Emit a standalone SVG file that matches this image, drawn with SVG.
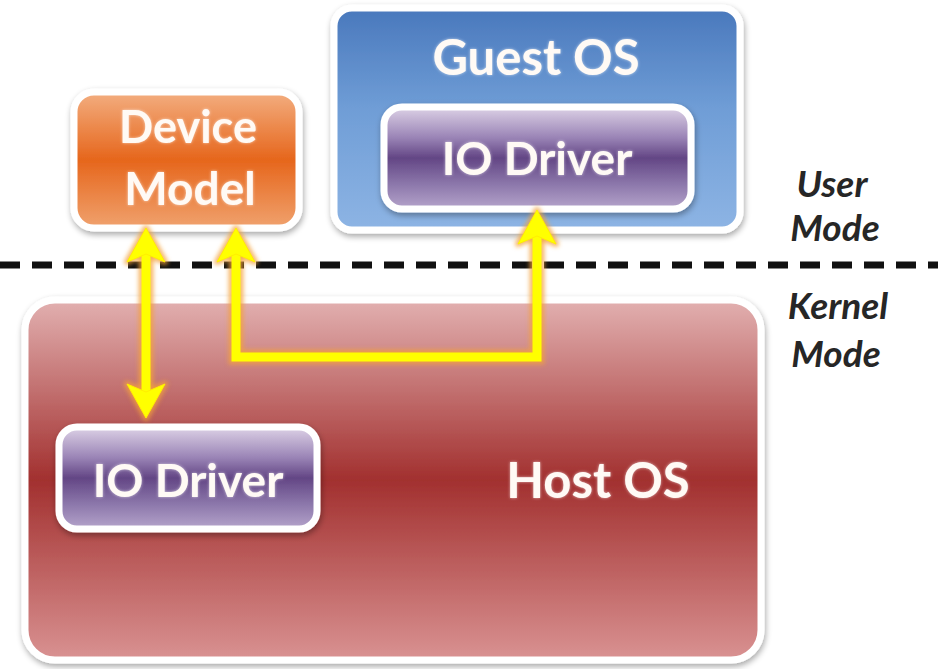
<svg xmlns="http://www.w3.org/2000/svg" width="938" height="669" viewBox="0 0 938 669">
  <defs>
    <linearGradient id="gOrange" x1="0" y1="0" x2="0" y2="1">
      <stop offset="0" stop-color="#f3ae80"/>
      <stop offset="0.5" stop-color="#e6661c"/>
      <stop offset="1" stop-color="#f0a26e"/>
    </linearGradient>
    <linearGradient id="gBlue" x1="0" y1="0" x2="0" y2="1">
      <stop offset="0" stop-color="#4978bc"/>
      <stop offset="0.45" stop-color="#6f9dd6"/>
      <stop offset="1" stop-color="#8db4e4"/>
    </linearGradient>
    <linearGradient id="gPurple" x1="0" y1="0" x2="0" y2="1">
      <stop offset="0" stop-color="#ddd2e6"/>
      <stop offset="0.3" stop-color="#9a84b6"/>
      <stop offset="0.5" stop-color="#634685"/>
      <stop offset="0.75" stop-color="#8b76aa"/>
      <stop offset="1" stop-color="#b5a4cb"/>
    </linearGradient>
    <linearGradient id="gRed" x1="0" y1="0" x2="0" y2="1">
      <stop offset="0" stop-color="#e2b0b0"/>
      <stop offset="0.5" stop-color="#a2302f"/>
      <stop offset="1" stop-color="#d99292"/>
    </linearGradient>
    <filter id="shadow" x="-10%" y="-10%" width="120%" height="125%">
      <feGaussianBlur in="SourceAlpha" stdDeviation="3"/>
      <feOffset dx="1" dy="3" result="b"/>
      <feComponentTransfer><feFuncA type="linear" slope="0.35"/></feComponentTransfer>
      <feMerge><feMergeNode/><feMergeNode in="SourceGraphic"/></feMerge>
    </filter>
    <filter id="glow" x="-20%" y="-40%" width="140%" height="180%">
      <feGaussianBlur in="SourceAlpha" stdDeviation="2"/>
      <feFlood flood-color="#ffffff" flood-opacity="0.6"/>
      <feComposite operator="in" in2="SourceAlpha"/>
      <feGaussianBlur stdDeviation="1.5"/>
      <feMerge><feMergeNode/><feMergeNode in="SourceGraphic"/></feMerge>
    </filter>
    <filter id="soft" x="-10%" y="-10%" width="120%" height="120%">
      <feGaussianBlur stdDeviation="2"/>
    </filter>
  </defs>
  <style>
    .frame { stroke: #ffffff; stroke-width: 7; }
    .label { font-family: Lato, "Liberation Sans", sans-serif; font-weight: bold; fill: #fffaf5; text-anchor: middle; }
    .mode { font-family: Lato, "Liberation Sans", sans-serif; font-weight: bold; font-style: italic; fill: #262626; text-anchor: middle; font-size: 37px; }
    .glowline { fill: none; stroke: #f4a23a; stroke-width: 15; stroke-linejoin: miter; stroke-linecap: butt; opacity: 0.75; }
    .glowhead { fill: #f4a23a; stroke: #f4a23a; stroke-width: 6; stroke-linejoin: round; opacity: 0.75; }
    .line { fill: none; stroke: #ffff00; stroke-width: 9; stroke-linejoin: miter; stroke-linecap: butt; }
    .head { fill: #ffff00; stroke: #ffee00; stroke-width: 1; stroke-linejoin: round; }
  </style>

  <!-- user / kernel boundary -->
  <line x1="0" y1="265" x2="938" y2="265" stroke="#111111" stroke-width="7" stroke-dasharray="20 12"/>

  <g id="host-os">
    <rect class="frame" x="25" y="300" width="736" height="360" rx="30" fill="url(#gRed)" filter="url(#shadow)"/>
    <text class="label" x="598" y="498" font-size="49" filter="url(#glow)">Host OS</text>
  </g>

  <g id="host-io-driver">
    <rect class="frame" x="59" y="427" width="258" height="102" rx="18" fill="url(#gPurple)" filter="url(#shadow)"/>
    <text class="label" x="188" y="497" font-size="46" filter="url(#glow)">IO Driver</text>
  </g>

  <g id="device-model">
    <rect class="frame" x="74" y="92" width="225" height="136" rx="20" fill="url(#gOrange)" filter="url(#shadow)"/>
    <text class="label" x="188" y="143" font-size="45" filter="url(#glow)">Device</text>
    <text class="label" x="190" y="205" font-size="46" filter="url(#glow)">Model</text>
  </g>

  <g id="guest-os">
    <rect class="frame" x="334" y="8" width="406" height="222" rx="18" fill="url(#gBlue)" filter="url(#shadow)"/>
    <text class="label" x="536" y="75" font-size="49" filter="url(#glow)">Guest OS</text>
  </g>

  <g id="guest-io-driver">
    <rect class="frame" x="384" y="107" width="307" height="102" rx="18" fill="url(#gPurple)" filter="url(#shadow)"/>
    <text class="label" x="537" y="175" font-size="46" filter="url(#glow)">IO Driver</text>
  </g>

  <g id="user-mode">
    <text class="mode" x="832" y="197">User</text>
    <text class="mode" x="835" y="241">Mode</text>
  </g>
  <g id="kernel-mode">
    <text class="mode" x="838" y="319">Kernel</text>
    <text class="mode" x="836" y="367">Mode</text>
  </g>

  <g id="connectors">
    <!-- orange halo under the yellow strokes -->
    <g filter="url(#soft)">
      <path class="glowline" d="M146 250 V395"/>
      <path class="glowhead" d="M146 228 L165 262 L146 254 L127 262 Z"/>
      <path class="glowhead" d="M146 418 L165 384 L146 392 L127 384 Z"/>
      <path class="glowline" d="M236 250 V357 H537 V230"/>
      <path class="glowhead" d="M236 228 L255 262 L236 254 L217 262 Z"/>
      <path class="glowhead" d="M537 210 L556 244 L537 236 L518 244 Z"/>
    </g>
    <!-- Device Model to host IO Driver -->
    <path class="line" d="M146 250 V395"/>
    <path class="head" d="M146 228 L165 262 L146 254 L127 262 Z"/>
    <path class="head" d="M146 418 L165 384 L146 392 L127 384 Z"/>
    <!-- guest IO Driver to Device Model -->
    <path class="line" d="M236 250 V357 H537 V230"/>
    <path class="head" d="M236 228 L255 262 L236 254 L217 262 Z"/>
    <path class="head" d="M537 210 L556 244 L537 236 L518 244 Z"/>
  </g>
</svg>
